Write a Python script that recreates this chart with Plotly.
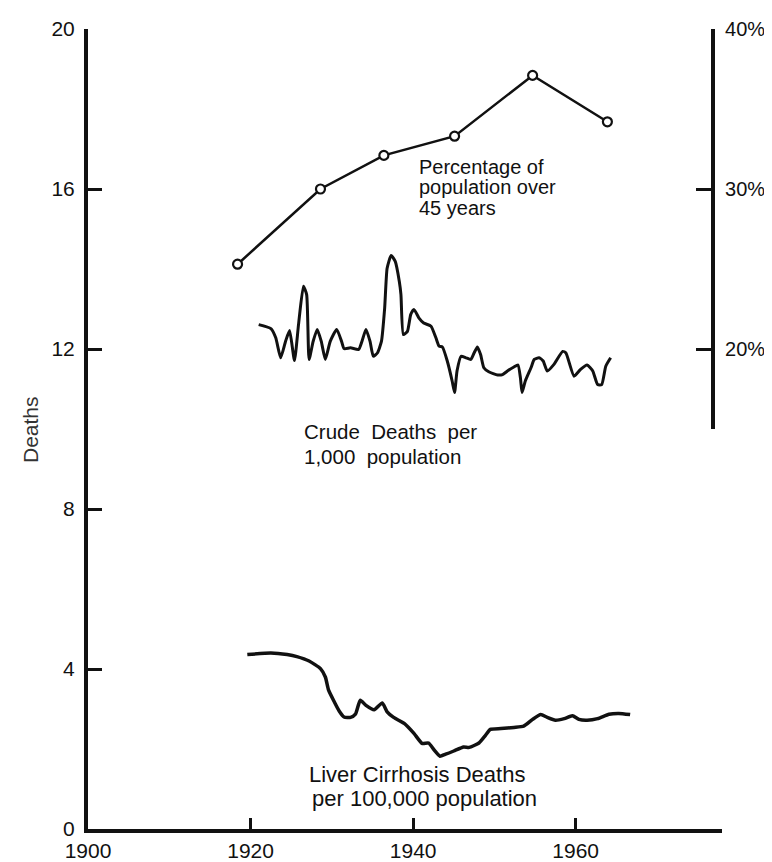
import plotly.graph_objects as go

# ---- data ----
pct_years = [1918.4, 1928.6, 1936.4, 1945.1, 1954.7, 1963.9]
pct_values = [25.3, 30.0, 32.1, 33.3, 37.1, 34.2]

crude_years = [1921.0, 1922.5, 1923.1, 1923.7, 1924.3, 1924.8, 1925.4, 1925.9, 1926.5, 1926.9,
               1927.2, 1927.7, 1928.2, 1928.7, 1929.2, 1929.8, 1930.6, 1931.2, 1931.5, 1932.3,
               1933.3, 1933.7, 1934.2, 1934.7, 1935.1, 1935.6, 1936.1, 1936.5, 1936.8, 1937.3,
               1937.8, 1938.3, 1938.5, 1938.8, 1939.3, 1939.7, 1940.1, 1940.7, 1941.3, 1942.2,
               1942.8, 1943.2, 1943.6, 1944.2, 1944.8, 1945.1, 1945.4, 1945.9, 1946.5, 1947.1,
               1947.5, 1947.9, 1948.3, 1948.7, 1949.3, 1950.4, 1951.0, 1951.6, 1952.4, 1952.9,
               1953.2, 1953.4, 1953.8, 1954.5, 1954.9, 1955.5, 1956.0, 1956.5, 1957.3, 1958.4,
               1958.8, 1959.8, 1960.6, 1961.4, 1962.1, 1962.7, 1963.2, 1963.7, 1964.3]
crude_values = [12.61, 12.51, 12.28, 11.78, 12.19, 12.46, 11.71, 12.61, 13.57, 13.36,
                11.74, 12.19, 12.49, 12.19, 11.74, 12.19, 12.49, 12.19, 12.01, 12.03,
                11.99, 12.19, 12.49, 12.19, 11.82, 11.90, 12.19, 13.03, 14.02, 14.34,
                14.19, 13.69, 13.36, 12.36, 12.44, 12.86, 12.99, 12.78, 12.65, 12.57,
                12.28, 12.07, 12.05, 11.70, 11.20, 10.91, 11.45, 11.82, 11.78, 11.74,
                11.90, 12.05, 11.86, 11.53, 11.43, 11.35, 11.36, 11.45, 11.55, 11.60,
                11.28, 10.91, 11.20, 11.53, 11.74, 11.78, 11.70, 11.45, 11.61, 11.94,
                11.90, 11.32, 11.49, 11.60, 11.45, 11.11, 11.11, 11.57, 11.78]

liver_years = [1919.6, 1922.5, 1924.5, 1925.7, 1927.2, 1928.6, 1929.2, 1929.6, 1930.3, 1930.9,
               1931.5, 1932.3, 1932.9, 1933.5, 1934.2, 1935.2, 1936.2, 1936.8, 1937.6, 1938.9,
               1940.1, 1941.1, 1941.9, 1942.6, 1943.3, 1944.0, 1945.0, 1946.2, 1946.9, 1948.1,
               1948.9, 1949.5, 1950.8, 1952.4, 1953.6, 1954.7, 1955.7, 1956.5, 1957.5, 1958.6,
               1959.6, 1960.4, 1961.4, 1962.7, 1964.1, 1965.3, 1966.7]
liver_values = [4.36, 4.40, 4.36, 4.31, 4.20, 4.01, 3.80, 3.47, 3.18, 2.95,
                2.80, 2.79, 2.87, 3.22, 3.09, 2.98, 3.15, 2.93, 2.79, 2.64,
                2.39, 2.14, 2.15, 1.97, 1.82, 1.87, 1.95, 2.05, 2.04, 2.15,
                2.34, 2.49, 2.51, 2.54, 2.57, 2.74, 2.86, 2.79, 2.72, 2.76,
                2.83, 2.74, 2.72, 2.76, 2.87, 2.89, 2.86]

x_ticks = [1900, 1920, 1940, 1960]
y_ticks = [0, 4, 8, 12, 16, 20]
pct_ticks = [20, 30, 40]
pct_labels = ["20%", "30%", "40%"]

FONT = "Liberation Sans"
INK = "#111111"

fig = go.Figure()
fig.add_trace(go.Scatter(x=crude_years, y=crude_values, mode="lines",
                         line=dict(color=INK, width=3, shape="spline", smoothing=0.5),
                         xaxis="x", yaxis="y", showlegend=False))
fig.add_trace(go.Scatter(x=liver_years, y=liver_values, mode="lines",
                         line=dict(color=INK, width=3.5, shape="spline", smoothing=0.5),
                         xaxis="x", yaxis="y", showlegend=False))
fig.add_trace(go.Scatter(x=pct_years, y=pct_values, mode="lines+markers",
                         line=dict(color=INK, width=2.5),
                         marker=dict(symbol="circle", size=9, color="white",
                                     line=dict(color=INK, width=2.2)),
                         xaxis="x", yaxis="y2", showlegend=False))

# text labels, one annotation per line
labels = [
    ("Percentage of", 1940.5, 16.56, 20),
    ("population over", 1940.5, 16.04, 20),
    ("45 years", 1940.5, 15.52, 20),
    ("Crude  Deaths  per", 1926.3, 9.95, 20.5),
    ("1,000  population", 1926.3, 9.31, 20.5),
    ("Liver Cirrhosis Deaths", 1926.9, 1.37, 22),
    ("per 100,000 population", 1927.3, 0.76, 22),
]
for txt, xx, yy, fs in labels:
    fig.add_annotation(text=txt, x=xx, y=yy, xref="x", yref="y",
                       xanchor="left", yanchor="middle", showarrow=False,
                       font=dict(family=FONT, size=fs, color=INK))

fig.add_annotation(text="Deaths", x=-0.0915, y=10, xref="paper", yref="y",
                   textangle=-90, xanchor="center", yanchor="middle", showarrow=False,
                   font=dict(family=FONT, size=21, color="#333333"))

# the page adds an 8 px body margin, so the margins are shifted by 8 px
fig.update_layout(
    template="none",
    width=772, height=862,
    margin=dict(l=80, r=58, t=21, b=41),
    paper_bgcolor="white", plot_bgcolor="rgba(0,0,0,0)",
    font=dict(family=FONT, size=21, color=INK),
    xaxis=dict(range=[1900, 1978], domain=[0, 1], anchor="y",
               showline=True, linecolor=INK, linewidth=4,
               tickmode="array", tickvals=x_ticks,
               ticks="inside", ticklen=11, tickwidth=2.5, tickcolor=INK,
               ticklabelstandoff=0,
               showgrid=False, zeroline=False, automargin=False,
               tickfont=dict(family=FONT, size=21, color=INK)),
    yaxis=dict(range=[0, 20], domain=[0, 1], anchor="x",
               showline=True, linecolor=INK, linewidth=4,
               tickmode="array", tickvals=y_ticks,
               ticks="inside", ticklen=14, tickwidth=3, tickcolor=INK,
               ticklabelstandoff=5,
               showgrid=False, zeroline=False, automargin=False,
               tickfont=dict(family=FONT, size=21, color=INK)),
    yaxis2=dict(range=[15, 40], domain=[0.5, 1], anchor="free", position=0.986,
                side="right",
                showline=True, linecolor=INK, linewidth=4,
                tickmode="array", tickvals=pct_ticks, ticktext=pct_labels,
                ticks="inside", ticklen=15, tickwidth=3, tickcolor=INK,
                ticklabelstandoff=6,
                showgrid=False, zeroline=False, automargin=False,
                tickfont=dict(family=FONT, size=20, color=INK)),
)

fig.write_html("out.html")
